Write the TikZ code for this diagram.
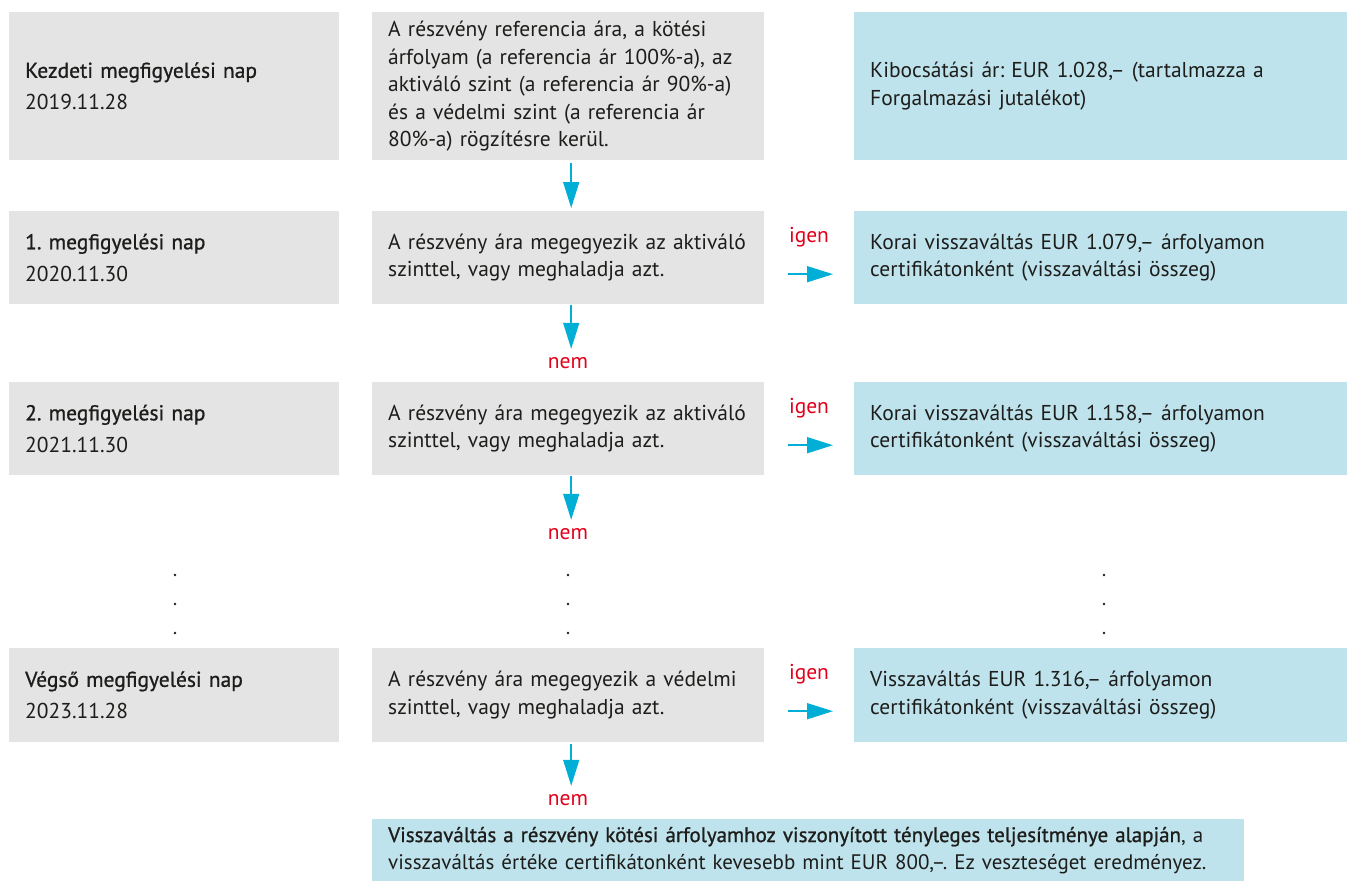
\documentclass[tikz,border=0pt]{standalone}
\usepackage{fontspec}
\setmainfont{PT Sans}
\newfontfamily\medfont{PT Sans}[FakeBold=0.9]
\usetikzlibrary{arrows.meta}
\definecolor{boxgray}{HTML}{E4E4E4}
\definecolor{boxblue}{HTML}{BFE3EC}
\definecolor{arrowcyan}{HTML}{00AED6}
\definecolor{labelred}{HTML}{E2001A}
\definecolor{txt}{HTML}{1D1D1B}
\frenchspacing
\begin{document}
\begin{tikzpicture}[x=1pt,y=-1pt,
  every node/.style={text=txt, font=\fontsize{21.5}{27.5}\selectfont},
  basebox/.style={anchor=north west, inner xsep=16pt, inner ysep=0pt, align=left},
  graybox/.style={basebox, fill=boxgray},
  bluebox/.style={basebox, fill=boxblue},
  leftbox/.style={graybox, text width=298pt},
  midbox/.style={graybox, text width=360pt},
  rightbox/.style={bluebox, text width=461pt},
  arr/.style={draw=arrowcyan, line width=1.5pt, -{Triangle[length=26pt,width=16pt]}},
  lab/.style={text=labelred, inner sep=0pt, anchor=base},
  dotmark/.style={fill=txt}
]
\useasboundingbox (0,0) rectangle (1347,881);

% row 1
\node[leftbox, minimum height=148pt] (l1) at (9,12)
  {{\medfont Kezdeti megfigyelési nap}\\[4.5pt]2019.11.28};
\node[midbox, minimum height=148pt] (m1) at (372,12)
  {A részvény referencia ára, a kötési\\árfolyam (a referencia ár 100\%-a), az\\aktiváló szint (a referencia ár 90\%-a)\\és a védelmi szint (a referencia ár\\80\%-a) rögzítésre kerül.};
\node[rightbox, minimum height=148pt] (r1) at (854,12)
  {Kibocsátási ár: EUR 1.028,– (tartalmazza a\\Forgalmazási jutalékot)};

% row 2
\node[leftbox, minimum height=93pt] (l2) at (9,211)
  {{\medfont 1. megfigyelési nap}\\[4.5pt]2020.11.30};
\node[midbox, minimum height=93pt] (m2) at (372,211)
  {A részvény ára megegyezik az aktiváló\\szinttel, vagy meghaladja azt.};
\node[rightbox, minimum height=93pt] (r2) at (854,211)
  {Korai visszaváltás EUR 1.079,– árfolyamon\\certifikátonként (visszaváltási összeg)};

% row 3
\node[leftbox, minimum height=93pt] (l3) at (9,382)
  {{\medfont 2. megfigyelési nap}\\[4.5pt]2021.11.30};
\node[midbox, minimum height=93pt] (m3) at (372,382)
  {A részvény ára megegyezik az aktiváló\\szinttel, vagy meghaladja azt.};
\node[rightbox, minimum height=93pt] (r3) at (854,382)
  {Korai visszaváltás EUR 1.158,– árfolyamon\\certifikátonként (visszaváltási összeg)};

% row 4
\node[leftbox, minimum height=94pt] (l4) at (9,648)
  {{\medfont Végső megfigyelési nap}\\[4.5pt]2023.11.28};
\node[midbox, minimum height=94pt] (m4) at (372,648)
  {A részvény ára megegyezik a védelmi\\szinttel, vagy meghaladja azt.};
\node[rightbox, minimum height=94pt] (r4) at (854,648)
  {Visszaváltás EUR 1.316,– árfolyamon\\certifikátonként (visszaváltási összeg)};

% final box
\node[bluebox, text width=840pt, minimum height=62pt,
      font=\fontsize{21}{27}\selectfont] (fin) at (372,819)
  {{\medfont Visszaváltás a részvény kötési árfolyamhoz viszonyított tényleges teljesítménye alapján}, a\\visszaváltás értéke certifikátonként kevesebb mint EUR 800,–. Ez veszteséget eredményez.};

% labels
\node[lab] (igen2) at (809,242) {igen};
\node[lab] (igen3) at (809,413) {igen};
\node[lab] (igen4) at (809,679) {igen};
\node[lab] (nem2) at (568,368) {nem};
\node[lab] (nem3) at (568,539) {nem};
\node[lab] (nem4) at (568,805) {nem};

% vertical arrows
\draw[arr] ([xshift=3pt,yshift=-3pt]m1.south) -- ([xshift=3pt,yshift=3pt]m2.north);
\draw[arr, shorten >=8pt] ([xshift=3pt,yshift=-1pt]m2.south) -- ([xshift=3pt]m2.south |- nem2.north);
\draw[arr, shorten >=8pt] ([xshift=3pt,yshift=-1pt]m3.south) -- ([xshift=3pt]m3.south |- nem3.north);
\draw[arr, shorten >=8pt] ([xshift=3pt,yshift=-2pt]m4.south) -- ([xshift=3pt]m4.south |- nem4.north);

% horizontal arrows
\draw[arr] ([xshift=24pt,yshift=-16.5pt]m2.east) -- ([xshift=-21pt,yshift=-16.5pt]r2.west);
\draw[arr] ([xshift=24pt,yshift=-16.5pt]m3.east) -- ([xshift=-21pt,yshift=-16.5pt]r3.west);
\draw[arr] ([xshift=24pt,yshift=-16pt]m4.east) -- ([xshift=-21pt,yshift=-16pt]r4.west);

% continuation dots
\foreach \x in {175,568,1104}{
  \foreach \y in {575,604,633}{
    \fill[dotmark] (\x,\y) circle (1.4pt);
  }
}
\end{tikzpicture}
\end{document}
